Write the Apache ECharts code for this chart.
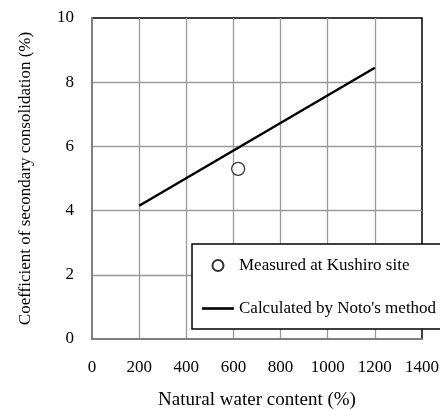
<!DOCTYPE html>
<html>
<head>
<meta charset="utf-8">
<script src="https://cdn.jsdelivr.net/npm/echarts@6/dist/echarts.min.js"></script>
<style>html,body{margin:0;padding:0;background:#fff}#c{width:440px;height:409px}</style>
</head>
<body>
<div id="c"></div>
<script>
var measuredName = 'Measured at Kushiro site';
var calcName = "Calculated by Noto's method";
var measuredX = [620];
var measuredY = [5.3];
var calcX = [200, 1200];
var calcY = [4.15, 8.45];
var xTitle = 'Natural water content (%)';
var yTitle = 'Coefficient of secondary consolidation (%)';

var FONT = '"Liberation Serif", "Times New Roman", serif';
function pairs(xs, ys) { return xs.map(function (x, i) { return [x, ys[i]]; }); }
function plain(v) { return String(v); }

var chart = echarts.init(document.getElementById('c'), null, { renderer: 'canvas' });
chart.setOption({
  animation: false,
  backgroundColor: '#fff',
  textStyle: { fontFamily: FONT, color: '#000' },
  grid: {
    left: 92, right: 18, top: 18, bottom: 70, containLabel: false, outerBoundsMode: 'none',
    show: true, borderColor: '#000', borderWidth: 1.5, backgroundColor: '#fff'
  },
  xAxis: {
    type: 'value', min: 0, max: 1400, interval: 200,
    name: xTitle, nameLocation: 'middle', nameGap: 52,
    nameTextStyle: { fontFamily: FONT, fontSize: 19, color: '#000' },
    axisLine: { show: true, onZero: false, lineStyle: { color: '#7f7f7f', width: 2 } },
    axisTick: { show: false },
    axisLabel: { fontFamily: FONT, fontSize: 17, color: '#000', margin: 20, formatter: plain },
    splitLine: { show: true, showMinLine: false, showMaxLine: false, lineStyle: { color: '#9a9a9a', width: 1.3 } }
  },
  yAxis: {
    type: 'value', min: 0, max: 10, interval: 2,
    name: yTitle, nameLocation: 'middle', nameGap: 58, nameRotate: 90,
    nameTextStyle: { fontFamily: FONT, fontSize: 17, color: '#000' },
    axisLine: { show: true, lineStyle: { color: '#7f7f7f', width: 2 } },
    axisTick: { show: false },
    axisLabel: { fontFamily: FONT, fontSize: 17, color: '#000', margin: 18, formatter: plain },
    splitLine: { show: true, showMinLine: false, showMaxLine: false, lineStyle: { color: '#9a9a9a', width: 1.3 } }
  },
  legend: {
    orient: 'vertical', left: 192, top: 244,
    backgroundColor: '#fff', borderColor: '#000', borderWidth: 1.5,
    padding: [13, 12, 12, 10], itemGap: 26, itemWidth: 32, itemHeight: 11,
    symbolKeepAspect: true,
    textStyle: { fontFamily: FONT, fontSize: 17, color: '#000' },
    data: [
      { name: measuredName },
      { name: calcName, icon: 'path://M0,0 L32,0 L32,2.6 L0,2.6 Z', itemStyle: { color: '#000', borderWidth: 0 } }
    ]
  },
  series: [
    {
      name: calcName, type: 'line', data: pairs(calcX, calcY),
      symbol: 'none', lineStyle: { color: '#000', width: 2.5 }, itemStyle: { color: '#000' }, z: 3
    },
    {
      name: measuredName, type: 'scatter', data: pairs(measuredX, measuredY),
      symbol: 'circle', symbolSize: 13,
      itemStyle: { color: '#fff', borderColor: '#000', borderWidth: 1.3 }, z: 4
    }
  ]
});
</script>
</body>
</html>
